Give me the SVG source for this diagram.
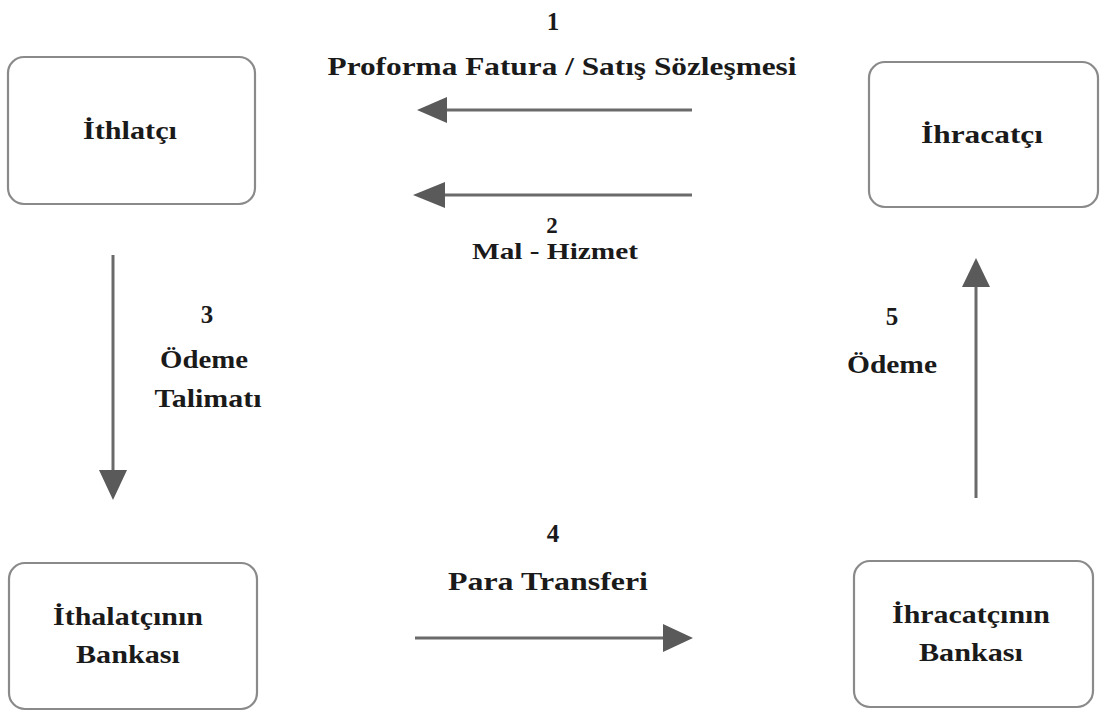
<svg xmlns="http://www.w3.org/2000/svg" width="1100" height="714" viewBox="0 0 1100 714">
<defs>
<style>
.box{fill:#fff;stroke:#8a8a8a;stroke-width:2.2}
.t{font-family:"Liberation Serif","Times New Roman",serif;font-weight:bold;font-size:25px;fill:#1a1a1a;text-anchor:middle}
.s{font-size:23px}
.ln{stroke:#6a6a6a;stroke-width:3;fill:none}
.hd{fill:#5a5a5a}
</style>
</defs>
<rect width="1100" height="714" fill="#fff"/>
<g id="ithalatci">
<rect class="box" x="8" y="57" width="247" height="147" rx="16"/>
<text class="t" x="130" y="139" textLength="94" lengthAdjust="spacingAndGlyphs">İthlatçı</text>
</g>
<g id="ihracatci">
<rect class="box" x="869" y="62" width="229" height="145" rx="16"/>
<text class="t" x="982" y="143" textLength="122" lengthAdjust="spacingAndGlyphs">İhracatçı</text>
</g>
<g id="ithalatcinin-bankasi">
<rect class="box" x="9" y="563" width="248" height="146" rx="16"/>
<text class="t" x="128" y="625" textLength="150" lengthAdjust="spacingAndGlyphs">İthalatçının</text>
<text class="t" x="128" y="663" textLength="104" lengthAdjust="spacingAndGlyphs">Bankası</text>
</g>
<g id="ihracatcinin-bankasi">
<rect class="box" x="854" y="561" width="239" height="146" rx="16"/>
<text class="t" x="971" y="623" textLength="158" lengthAdjust="spacingAndGlyphs">İhracatçının</text>
<text class="t" x="971" y="661" textLength="104" lengthAdjust="spacingAndGlyphs">Bankası</text>
</g>
<g id="connectors">
<line class="ln" x1="692" y1="110" x2="440" y2="110"/>
<polygon class="hd" points="417,110 447,97 447,123"/>
<line class="ln" x1="692" y1="195" x2="440" y2="195"/>
<polygon class="hd" points="413,195 445,182 445,208"/>
<line class="ln" x1="113" y1="255" x2="113" y2="475"/>
<polygon class="hd" points="113,500 99,470 127,470"/>
<line class="ln" x1="976" y1="498" x2="976" y2="282"/>
<polygon class="hd" points="976,258 962,287 990,287"/>
<line class="ln" x1="415" y1="638" x2="668" y2="638"/>
<polygon class="hd" points="693,638 663,624 663,652"/>
</g>
<g id="labels">
<text class="t" x="553" y="30">1</text>
<text class="t" x="562" y="75" textLength="469" lengthAdjust="spacingAndGlyphs">Proforma Fatura / Satış Sözleşmesi</text>
<text class="t s" x="552" y="233">2</text>
<text class="t s" x="555" y="259" textLength="166" lengthAdjust="spacingAndGlyphs">Mal - Hizmet</text>
<text class="t" x="207" y="323">3</text>
<text class="t" x="204" y="368" textLength="88" lengthAdjust="spacingAndGlyphs">Ödeme</text>
<text class="t" x="208" y="407" textLength="107" lengthAdjust="spacingAndGlyphs">Talimatı</text>
<text class="t" x="553" y="542">4</text>
<text class="t" x="548" y="590" textLength="200" lengthAdjust="spacingAndGlyphs">Para Transferi</text>
<text class="t" x="892" y="325">5</text>
<text class="t" x="892" y="373" textLength="90" lengthAdjust="spacingAndGlyphs">Ödeme</text>
</g>
</svg>
